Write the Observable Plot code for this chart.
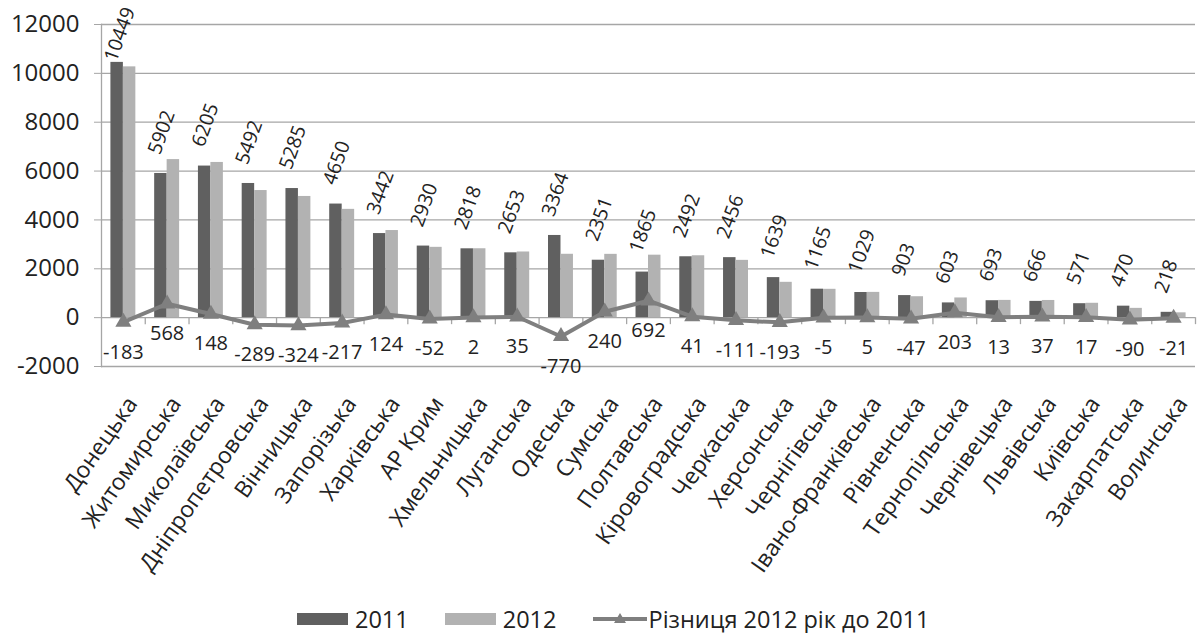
<!DOCTYPE html>
<html>
<head>
<meta charset="utf-8">
<script src="https://cdn.jsdelivr.net/npm/d3@7"></script>
<script src="https://cdn.jsdelivr.net/npm/@observablehq/plot@0.6"></script>
<style>
  html, body { margin: 0; padding: 0; background: #fff; }
  body { width: 1197px; height: 633px; overflow: hidden; font-family: 'Open Sans', sans-serif; color: #222; }
  #legend { display: flex; justify-content: flex-start; align-items: center; height: 35px; padding-top: 6px; line-height: 26px; font-size: 23.5px; padding-left: 297px; box-sizing: border-box; }
  .item { display: flex; align-items: center; margin-right: 36px; }
  .sw { width: 51px; height: 12px; margin-right: 7px; }
</style>
</head>
<body>
<div id="chart"></div>
<div id="legend">
  <div class="item"><div class="sw" style="background:#606060"></div><span>2011</span></div>
  <div class="item"><div class="sw" style="background:#b2b2b2"></div><span>2012</span></div>
  <div class="item"><svg width="54" height="14" style="margin-right:2px"><line x1="0" y1="7" x2="54" y2="7" stroke="#7f7f7f" stroke-width="4"/><path d="M27,1 L33,11 L21,11 Z" fill="#7f7f7f"/></svg><span>Різниця 2012 рік до 2011</span></div>
</div>
<script>
const regions = ["Донецька","Житомирська","Миколаївська","Дніпропетровська","Вінницька","Запорізька","Харківська","АР Крим","Хмельницька","Луганська","Одеська","Сумська","Полтавська","Кіровоградська","Черкаська","Херсонська","Чернігівська","Івано-Франківська","Рівненська","Тернопільська","Чернівецька","Львівська","Київська","Закарпатська","Волинська"];
const values2011 = [10449,5902,6205,5492,5285,4650,3442,2930,2818,2653,3364,2351,1865,2492,2456,1639,1165,1029,903,603,693,666,571,470,218];
const values2012 = [10266,6470,6353,5203,4961,4433,3566,2878,2820,2688,2594,2591,2557,2533,2345,1446,1160,1034,856,806,706,703,588,380,197];
const diffs = [-183,568,148,-289,-324,-217,124,-52,2,35,-770,240,692,41,-111,-193,-5,5,-47,203,13,37,17,-90,-21];
const yTicks = [-2000,0,2000,4000,6000,8000,10000,12000];

const data = regions.map((r, i) => ({region: r, v2011: values2011[i], v2012: values2012[i], diff: diffs[i]}));

const W = 1197, H = 598, mL = 101, mR = 2, mT = 24, mB = 232;
const padIn = 0.43;
const step = (W - mL - mR) / regions.length;
const bw = step * (1 - padIn);
const labelCap = 9700; // highest label base that still fits in the chart area
const grid = "#a6a6a6";

const chart = Plot.plot({
  width: W, height: H,
  marginLeft: mL, marginRight: mR, marginTop: mT, marginBottom: mB,
  style: {fontFamily: "'Open Sans', sans-serif", color: "#222", background: "#fff"},
  x: {domain: regions, paddingInner: padIn, paddingOuter: padIn / 2, round: false},
  y: {domain: [-2000, 12000]},
  marks: [
    Plot.ruleY(yTicks, {stroke: grid, strokeWidth: 1.3}),
    Plot.frame({anchor: "left", stroke: grid, strokeWidth: 1.3}),
    Plot.ruleX(regions, {x: d => d, y1: 0, y2: 0, insetBottom: -7, dx: step / 2, stroke: grid, strokeWidth: 1.3}),
    Plot.axisY({ticks: yTicks, tickSize: 7, tickPadding: 15, fontSize: 24, tickFormat: d => String(d), stroke: grid, fill: "#222", label: null}),
    Plot.axisX({tickSize: 0, tickPadding: 33, tickRotate: -55, fontSize: 23, dx: 9, fill: "#222", label: null}),
    Plot.barY(data, {x: "region", y: "v2011", fill: "#606060", insetRight: bw / 2}),
    Plot.barY(data, {x: "region", y: "v2012", fill: "#b2b2b2", insetLeft: bw / 2}),
    Plot.line(data, {x: "region", y: "diff", stroke: "#7f7f7f", strokeWidth: 4}),
    Plot.dot(data, {x: "region", y: "diff", symbol: "triangle", r: 6, fill: "#7f7f7f", stroke: "none"}),
    Plot.text(data, {x: "region", y: d => Math.min(d.v2011, labelCap), text: d => String(d.v2011), rotate: -70, textAnchor: "start", lineAnchor: "bottom", dx: -bw / 4 - 1, dy: -18, fontSize: 19.5, fill: "#222"}),
    Plot.text(data, {x: "region", y: "diff", text: d => String(d.diff), dy: 30, fontSize: 20, fill: "#222"})
  ]
});
document.getElementById("chart").appendChild(chart);
</script>
</body>
</html>
